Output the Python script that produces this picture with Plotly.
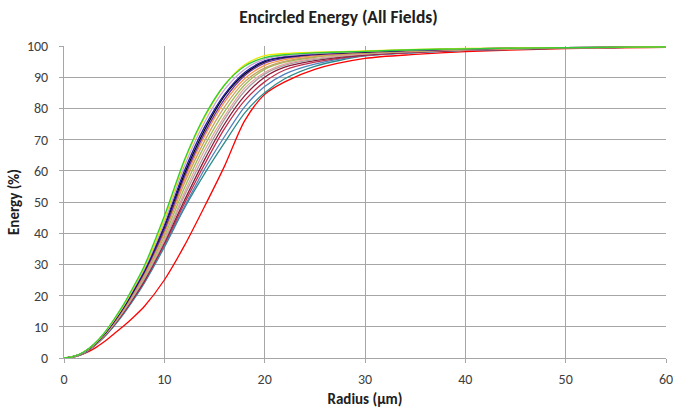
import plotly.graph_objects as go

radius = [0, 1, 2, 3, 4, 5, 6, 7, 8, 10, 12, 14, 16, 18, 20, 22, 25, 30, 35, 40, 50, 60]

green      = [0, 0.5, 2.0, 4.5, 8.0, 12.5, 17.5, 23.3, 29.5, 45.5, 63.5, 77.5, 87.5, 93.5, 96.3, 97.2, 97.8, 98.3, 98.8, 99.1, 99.5, 99.7]
yellow     = [0, 0.5, 2.0, 4.4, 7.9, 12.3, 17.2, 23.0, 29.0, 44.5, 63.0, 77.0, 87.5, 94.0, 96.9, 97.6, 98.0, 98.4, 98.9, 99.2, 99.5, 99.7]
lavender   = [0, 0.5, 1.9, 4.4, 7.8, 12.1, 17.0, 22.6, 28.5, 43.5, 61.5, 75.5, 86.0, 92.5, 95.8, 96.9, 97.6, 98.3, 98.8, 99.1, 99.5, 99.7]
navy       = [0, 0.5, 1.9, 4.3, 7.7, 12.0, 16.8, 22.2, 28.0, 42.5, 60.0, 74.0, 84.5, 91.5, 95.2, 96.6, 97.5, 98.2, 98.7, 99.1, 99.5, 99.7]
black      = [0, 0.5, 1.9, 4.3, 7.6, 11.8, 16.6, 22.0, 27.8, 42.0, 59.0, 73.0, 84.0, 91.0, 95.0, 96.4, 97.4, 98.1, 98.7, 99.1, 99.5, 99.7]
purple     = [0, 0.5, 1.8, 4.2, 7.5, 11.6, 16.3, 21.6, 27.3, 41.0, 58.0, 72.0, 83.0, 90.5, 94.5, 96.1, 97.2, 98.0, 98.6, 99.0, 99.5, 99.7]
orange     = [0, 0.5, 1.8, 4.2, 7.5, 11.5, 16.2, 21.4, 27.0, 40.5, 57.0, 71.0, 82.0, 89.5, 93.8, 95.6, 96.9, 97.9, 98.5, 99.0, 99.4, 99.7]
tan        = [0, 0.5, 1.8, 4.2, 7.4, 11.4, 16.0, 21.1, 26.6, 40.0, 56.0, 69.5, 80.5, 88.5, 93.0, 95.1, 96.6, 97.8, 98.4, 98.9, 99.4, 99.7]
lightgreen = [0, 0.5, 1.7, 4.1, 7.3, 11.3, 15.8, 20.8, 26.2, 39.0, 54.5, 68.0, 79.0, 87.5, 92.5, 94.8, 96.4, 97.7, 98.4, 98.9, 99.4, 99.7]
salmon     = [0, 0.4, 1.7, 4.0, 7.2, 11.1, 15.5, 20.5, 25.8, 38.0, 53.0, 66.5, 77.5, 86.5, 91.5, 94.2, 96.0, 97.5, 98.3, 98.8, 99.4, 99.7]
gray       = [0, 0.4, 1.7, 4.0, 7.1, 10.9, 15.3, 20.1, 25.3, 37.5, 52.0, 65.0, 76.5, 85.5, 91.0, 93.8, 95.7, 97.4, 98.2, 98.8, 99.4, 99.7]
maroon     = [0, 0.4, 1.6, 3.9, 7.0, 10.7, 15.0, 19.7, 24.8, 37.0, 50.5, 63.5, 75.0, 84.0, 90.0, 93.2, 95.3, 97.2, 98.1, 98.7, 99.3, 99.7]
crimson    = [0, 0.4, 1.6, 3.9, 6.9, 10.6, 14.8, 19.5, 24.5, 36.5, 49.5, 62.0, 73.5, 82.5, 88.5, 92.3, 94.8, 97.0, 98.0, 98.7, 99.3, 99.7]
steelblue  = [0, 0.4, 1.6, 3.8, 6.8, 10.4, 14.6, 19.2, 24.2, 36.0, 48.5, 60.5, 71.0, 80.5, 87.0, 91.0, 94.2, 96.9, 97.9, 98.6, 99.3, 99.7]
teal       = [0, 0.4, 1.5, 3.8, 6.7, 10.3, 14.4, 19.0, 24.0, 35.5, 48.0, 59.0, 69.0, 78.5, 85.0, 89.5, 93.5, 96.8, 97.9, 98.6, 99.3, 99.7]
red        = [0, 0.35, 1.4, 3.0, 5.2, 7.8, 10.4, 13.3, 16.5, 25.0, 36.0, 48.5, 61.5, 76.0, 84.5, 88.5, 92.5, 96.0, 97.3, 98.2, 99.2, 99.6]

series = [
    ("Field 16", red, "#ff0000"),
    ("Field 1", teal, "#2e8b8b"),
    ("Field 2", steelblue, "#4f81bd"),
    ("Field 3", crimson, "#c0304d"),
    ("Field 4", maroon, "#8b1a3a"),
    ("Field 5", gray, "#a0a0a0"),
    ("Field 6", salmon, "#e6a0a0"),
    ("Field 7", lightgreen, "#9bbb59"),
    ("Field 8", tan, "#c8a064"),
    ("Field 9", orange, "#f79646"),
    ("Field 10", purple, "#7030a0"),
    ("Field 11", black, "#000000"),
    ("Field 12", navy, "#1f1f9f"),
    ("Field 13", lavender, "#c9a0dc"),
    ("Field 14", yellow, "#e8e800"),
    ("Field 15", green, "#33cc33"),
]

FONT = "Carlito, Calibri, 'Liberation Sans', Arial, sans-serif"

fig = go.Figure()
for name, vals, col in series:
    fig.add_trace(go.Scatter(x=radius, y=vals, name=name, mode="lines",
                             line=dict(color=col, width=1.3, shape="spline", smoothing=0.8)))

fig.update_layout(
    width=673, height=413,
    margin=dict(l=64, r=7, t=46, b=55, autoexpand=False),
    paper_bgcolor="white", plot_bgcolor="white",
    showlegend=False,
    font=dict(family=FONT, size=14, color="#404040"),
    title=dict(text="<b>Encircled Energy (All Fields)</b>", x=0.503, xanchor="center",
               y=0.96, yanchor="middle", font=dict(family=FONT, size=17.5, color="#202020")),
)
fig.update_xaxes(range=[0, 60], dtick=10, showgrid=True, gridcolor="#a6a6a6", gridwidth=1,
                 showline=True, linecolor="#a6a6a6", linewidth=1, zeroline=False,
                 ticks="outside", ticklen=4, tickcolor="#a6a6a6", ticklabelstandoff=4, automargin=False,
                 ticklabeloverflow="allow",
                 title=dict(text="<b>Radius (µm)</b>", font=dict(family=FONT, size=15, color="#202020"), standoff=6))
fig.update_yaxes(range=[0, 100], dtick=10, showgrid=True, gridcolor="#a6a6a6", gridwidth=1,
                 showline=True, linecolor="#a6a6a6", linewidth=1, zeroline=False,
                 ticks="outside", ticklen=4, tickcolor="#a6a6a6", ticklabelstandoff=8, automargin=False,
                 title=dict(text="<b>Energy (%)</b>", font=dict(family=FONT, size=15, color="#202020"), standoff=3))

fig.write_html("out.html")
